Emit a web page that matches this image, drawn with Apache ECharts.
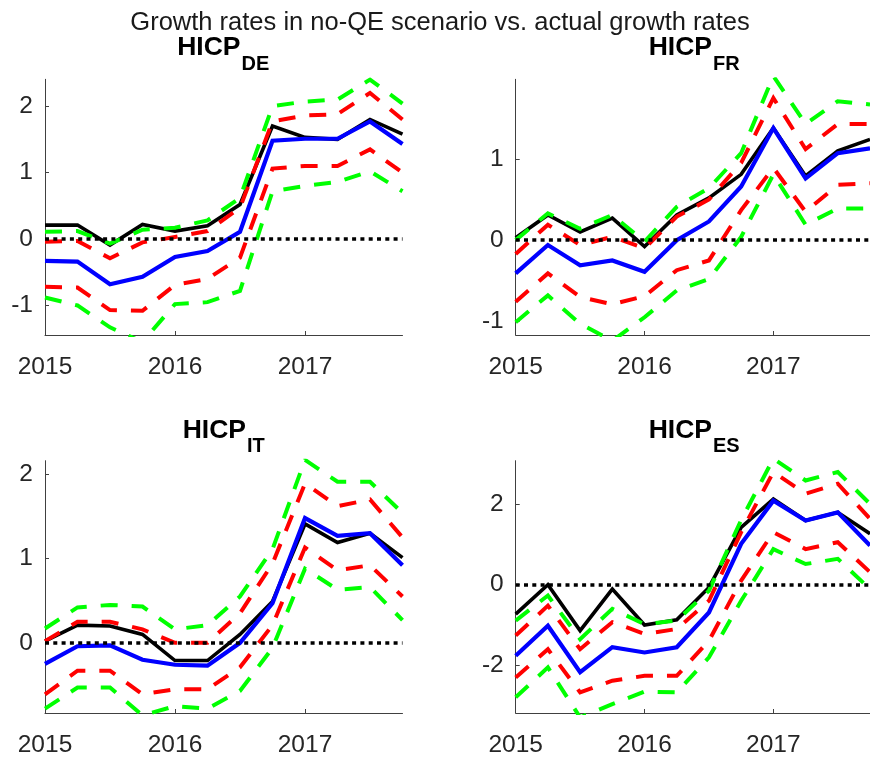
<!DOCTYPE html>
<html>
<head>
<meta charset="utf-8">
<script src="https://cdn.jsdelivr.net/npm/echarts@6/dist/echarts.min.js"></script>
<style>
  html, body { margin: 0; padding: 0; background: #ffffff; }
  #chart { width: 870px; height: 758px; }
</style>
</head>
<body>
<div id="chart"></div>
<script>
// ---------------- data ----------------
const mainTitle = 'Growth rates in no-QE scenario vs. actual growth rates';
const quarters = [2015, 2015.25, 2015.5, 2015.75, 2016, 2016.25, 2016.5, 2016.75, 2017, 2017.25, 2017.5, 2017.75];
const xTickValues = [2015, 2016, 2017];

const panelCodes = ['DE', 'FR', 'IT', 'ES'];

const actualDE   = [0.21, 0.21, -0.09, 0.22, 0.12, 0.20, 0.52, 1.70, 1.53, 1.50, 1.80, 1.58];
const noQEDE     = [-0.33, -0.34, -0.68, -0.57, -0.27, -0.18, 0.11, 1.48, 1.51, 1.51, 1.77, 1.43];
const redUpDE    = [-0.04, -0.03, -0.29, -0.05, 0.03, 0.12, 0.47, 1.77, 1.86, 1.88, 2.20, 1.80];
const redLoDE    = [-0.72, -0.73, -1.07, -1.08, -0.69, -0.60, -0.28, 1.06, 1.10, 1.10, 1.35, 1.00];
const greenUpDE  = [0.11, 0.12, -0.07, 0.14, 0.17, 0.28, 0.62, 2.00, 2.07, 2.10, 2.40, 2.04];
const greenLoDE  = [-0.88, -1.00, -1.33, -1.55, -0.98, -0.95, -0.78, 0.72, 0.80, 0.86, 1.02, 0.72];
const yTicksDE   = [-1, 0, 1, 2];
const yRangeDE   = [-1.445, 2.405];

const actualFR   = [0.03, 0.31, 0.10, 0.27, -0.08, 0.31, 0.52, 0.81, 1.38, 0.79, 1.10, 1.24];
const noQEFR     = [-0.41, -0.06, -0.31, -0.25, -0.39, 0.00, 0.23, 0.66, 1.38, 0.76, 1.07, 1.13];
const redUpFR    = [-0.17, 0.19, -0.06, 0.04, -0.10, 0.29, 0.50, 0.95, 1.75, 1.12, 1.43, 1.43];
const redLoFR    = [-0.76, -0.41, -0.70, -0.79, -0.69, -0.37, -0.25, 0.37, 0.89, 0.35, 0.68, 0.70];
const greenUpFR  = [0.00, 0.33, 0.14, 0.31, -0.02, 0.41, 0.64, 1.07, 2.02, 1.43, 1.71, 1.67];
const greenLoFR  = [-1.01, -0.68, -1.03, -1.24, -0.95, -0.62, -0.48, 0.04, 0.81, 0.19, 0.39, 0.39];
const yTicksFR   = [-1, 0, 1];
const yRangeFR   = [-1.168, 1.98];

const actualIT   = [0.02, 0.21, 0.20, 0.10, -0.21, -0.21, 0.10, 0.49, 1.41, 1.19, 1.30, 1.01];
const noQEIT     = [-0.25, -0.04, -0.03, -0.20, -0.26, -0.27, 0.00, 0.47, 1.48, 1.27, 1.30, 0.92];
const redUpIT    = [0.02, 0.25, 0.25, 0.16, 0.00, 0.00, 0.35, 0.94, 1.89, 1.62, 1.70, 1.25];
const redLoIT    = [-0.61, -0.33, -0.33, -0.61, -0.55, -0.55, -0.29, 0.21, 1.13, 0.86, 0.92, 0.55];
const greenUpIT  = [0.17, 0.42, 0.45, 0.43, 0.16, 0.21, 0.55, 1.11, 2.17, 1.91, 1.91, 1.54];
const greenLoIT  = [-0.78, -0.53, -0.53, -0.86, -0.75, -0.78, -0.57, -0.06, 0.88, 0.63, 0.66, 0.27];
const yTicksIT   = [0, 1, 2];
const yRangeIT   = [-0.832, 2.16];

const actualES   = [-0.73, 0.00, -1.14, -0.11, -1.00, -0.87, -0.07, 1.42, 2.12, 1.59, 1.79, 1.26];
const noQEES     = [-1.76, -1.02, -2.17, -1.55, -1.68, -1.55, -0.69, 1.01, 2.08, 1.59, 1.79, 0.97];
const redUpES    = [-1.26, -0.52, -1.60, -0.93, -1.22, -1.10, -0.40, 1.30, 2.79, 2.25, 2.50, 1.63];
const redLoES    = [-2.30, -1.60, -2.67, -2.38, -2.26, -2.26, -1.39, 0.10, 1.30, 0.88, 1.05, 0.31];
const greenUpES  = [-0.89, -0.27, -1.35, -0.60, -0.98, -0.89, -0.15, 1.60, 3.12, 2.58, 2.79, 2.00];
const greenLoES  = [-2.79, -2.05, -3.29, -2.96, -2.65, -2.67, -1.80, -0.40, 0.88, 0.51, 0.64, -0.11];
const yTicksES   = [-2, 0, 2];
const yRangeES   = [-3.18, 3.07];

// ---------------- layout ----------------
const panels = [
  { code: 'DE', grid: { left: 45, top: 79.3, width: 357.5, height: 255.7 }, range: yRangeDE, ticks: yTicksDE,
    series: [actualDE, noQEDE, redUpDE, redLoDE, greenUpDE, greenLoDE], split: 240.5, hY: 48, sY: 64 },
  { code: 'FR', grid: { left: 515.7, top: 79.3, width: 356.6, height: 255.7 }, range: yRangeFR, ticks: yTicksFR,
    series: [actualFR, noQEFR, redUpFR, redLoFR, greenUpFR, greenLoFR], split: 712, hY: 48, sY: 64 },
  { code: 'IT', grid: { left: 45, top: 460.7, width: 357.5, height: 255.3 }, range: yRangeIT, ticks: yTicksIT,
    series: [actualIT, noQEIT, redUpIT, redLoIT, greenUpIT, greenLoIT], split: 246, hY: 430.5, sY: 446.5 },
  { code: 'ES', grid: { left: 515.7, top: 460.7, width: 356.6, height: 255.3 }, range: yRangeES, ticks: yTicksES,
    series: [actualES, noQEES, redUpES, redLoES, greenUpES, greenLoES], split: 712, hY: 430.5, sY: 446.5 }
];

const FONT = '"Liberation Sans", Arial, Helvetica, sans-serif';
const AXIS_COLOR = '#404040';
const LABEL_COLOR = '#262626';

const lineStyles = [
  { color: '#000000', width: 3.6, type: 'solid' },
  { color: '#0000ff', width: 4.2, type: 'solid' },
  { color: '#ff0000', width: 4, type: [17, 14] },
  { color: '#ff0000', width: 4, type: [17, 14] },
  { color: '#00ff00', width: 4, type: [17, 14] },
  { color: '#00ff00', width: 4, type: [17, 14] }
];

const grids = [], xAxes = [], yAxes = [], series = [], graphics = [];

graphics.push({
  type: 'text', x: 440, y: 22.5, silent: true,
  style: { text: mainTitle, fill: '#1a1a1a', fontFamily: FONT, fontSize: 25.5,
           align: 'center', verticalAlign: 'middle' }
});

panels.forEach((p, i) => {
  grids.push(Object.assign({ containLabel: false }, p.grid));
  xAxes.push({
    type: 'value', gridIndex: i, min: quarters[0], max: quarters[quarters.length - 1],
    axisLine: { show: true, onZero: false, lineStyle: { color: AXIS_COLOR, width: 1 } },
    axisTick: { show: true, inside: true, length: 4, customValues: xTickValues, lineStyle: { color: AXIS_COLOR, width: 1 } },
    axisLabel: { show: true, customValues: xTickValues, formatter: v => String(v), margin: 20,
                 fontFamily: FONT, fontSize: 24.5, color: LABEL_COLOR },
    splitLine: { show: false }
  });
  yAxes.push({
    type: 'value', gridIndex: i, min: p.range[0], max: p.range[1],
    axisLine: { show: true, onZero: false, lineStyle: { color: AXIS_COLOR, width: 1 } },
    axisTick: { show: true, inside: true, length: 4, customValues: p.ticks, lineStyle: { color: AXIS_COLOR, width: 1 } },
    axisLabel: { show: true, customValues: p.ticks, formatter: v => String(v), margin: 12,
                 padding: [10, 0, 0, 0],
                 fontFamily: FONT, fontSize: 24.5, color: LABEL_COLOR },
    splitLine: { show: false }
  });
  p.series.forEach((vals, k) => {
    const s = {
      type: 'line', xAxisIndex: i, yAxisIndex: i, symbol: 'none', silent: true,
      clip: true, animation: false,
      data: quarters.map((q, j) => [q, vals[j]]),
      lineStyle: Object.assign({ cap: 'butt', join: 'miter' }, lineStyles[k]),
      z: 2 + k * 0.01
    };
    if (k === 0) {
      s.markLine = {
        silent: true, animation: false, symbol: ['none', 'none'],
        label: { show: false },
        lineStyle: { color: '#000000', width: 3.6, type: [4, 4.3], cap: 'butt' },
        emphasis: { disabled: true },
        data: [{ yAxis: 0 }]
      };
    }
    series.push(s);
  });
  graphics.push({
    type: 'text', x: p.split, y: p.hY, silent: true,
    style: { text: 'HICP', fill: '#000000', fontFamily: FONT, fontWeight: 'bold', fontSize: 26.5,
             align: 'right', verticalAlign: 'middle' }
  });
  graphics.push({
    type: 'text', x: p.split + 1, y: p.sY, silent: true,
    style: { text: p.code, fill: '#000000', fontFamily: FONT, fontWeight: 'bold', fontSize: 20,
             align: 'left', verticalAlign: 'middle' }
  });
});

const chart = echarts.init(document.getElementById('chart'), null, { renderer: 'canvas' });
chart.setOption({
  animation: false,
  backgroundColor: '#ffffff',
  grid: grids,
  xAxis: xAxes,
  yAxis: yAxes,
  series: series,
  graphic: graphics
});
</script>
</body>
</html>
